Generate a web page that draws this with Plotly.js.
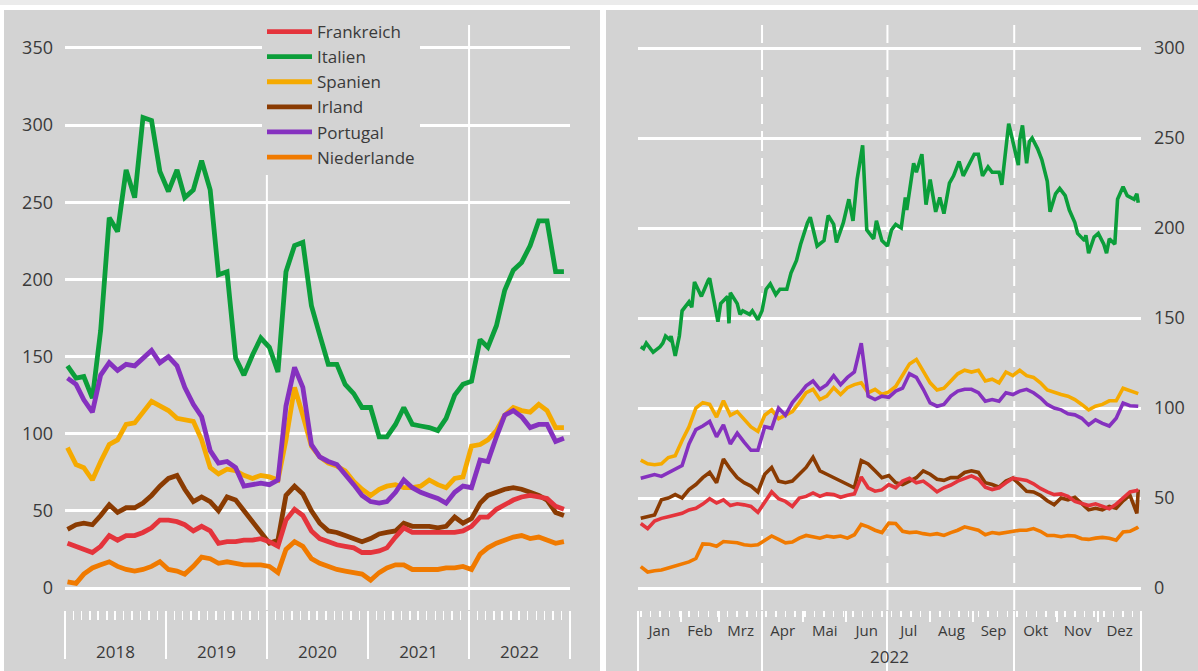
<!DOCTYPE html>
<html lang="de">
<head>
<meta charset="UTF-8">
<title>Renditeaufschläge gegenüber Deutschland</title>
<script src="https://cdn.plot.ly/plotly-3.0.1.min.js"></script>
<style>
  body { margin: 0; background: #fff; }
  #chart { width: 1198px; height: 671px; }
</style>
</head>
<body>
<div id="chart"></div>
<script>
// ---------- Daten ----------
const countries = ['Frankreich', 'Italien', 'Spanien', 'Irland', 'Portugal', 'Niederlande'];

// linkes Panel: Monatswerte 2018-2022
const years = [2018, 2019, 2020, 2021, 2022];
const monthNums = ['01','02','03','04','05','06','07','08','09','10','11','12'];

const frL = [29,27,25,23,27,34,31,34,34,36, 39,44,44,43,41,37,40,37,29,30, 30,31,31,32,30,27,44,51,47,37,
             32,30,28,27,26,23,23,24,26,33, 39,36,36,36,36,36,36,37,40,46, 46,51,54,57,59,60,59,58,53,51];
const itL = [144,136,137,123,167,240,231,271,253,305, 303,270,257,271,253,258,277,258,203,205,
             149,138,151,162,156,140,205,222,224,183, 164,145,145,132,126,117,117,98,98,106,
             117,106,105,104,102,110,125,132,134,161, 156,170,193,206,211,222,238,238,205,205];
const esL = [91,80,78,70,82,93,96,106,107,114, 121,118,115,110,109,108,96,78,74,77, 76,73,71,73,72,70,96,130,112,92,
             85,81,79,76,69,64,60,64,66,67, 65,65,66,70,67,65,71,72,92,93, 96,102,112,117,115,114,119,115,104,104];
const ieL = [38,41,42,41,47,54,49,52,52,55, 60,66,71,73,64,56,59,56,50,59, 57,50,43,35,29,31,60,66,61,50,
             42,37,36,34,32,30,32,35,36,37, 42,40,40,40,39,40,46,42,45,55, 60,62,64,65,64,62,60,57,49,47];
const ptL = [136,132,122,114,138,146,141,145,144,149, 154,146,150,144,130,119,111,89,81,82, 78,66,67,68,67,70,118,143,130,93,
             85,82,80,74,67,60,56,55,56,62, 70,65,62,60,58,55,62,66,65,83, 82,98,112,115,111,104,106,106,95,97];
const nlL = [4,3,9,13,15,17,14,12,11,12, 14,17,12,11,9,14,20,19,16,17, 16,15,15,15,14,10,25,30,27,19,
             16,14,12,11,10,9,5,10,13,15, 15,12,12,12,12,13,13,14,12,22, 26,29,31,33,34,32,33,31,29,30];

// rechtes Panel: Tageswerte 2022 (Auswahl)
const rDays = ['01-03','01-08','01-13','01-18','01-23','01-28','02-02','02-07','02-12','02-17','02-22','02-27',
               '03-04','03-09','03-14','03-19','03-24','03-29','04-03','04-08','04-13','04-18','04-23','04-28',
               '05-03','05-08','05-13','05-18','05-23','05-28','06-02','06-07','06-12','06-17','06-22','06-27',
               '07-02','07-07','07-12','07-17','07-22','07-27','08-01','08-06','08-11','08-16','08-21','08-26',
               '08-31','09-05','09-10','09-15','09-20','09-25','09-30','10-05','10-10','10-15','10-20','10-25',
               '10-30','11-04','11-09','11-14','11-19','11-24','11-29','12-04','12-09','12-14','12-19','12-24',
               '12-29','12-30'];
const frR = [35.8,33,37.2,38.7,39.6,40.6,41.5,43.4,44.3,46.6,49.6,47.2,49,45.8,46.8,46.2,45.3,42,48.1,53.4,
             49.6,48.1,45.3,50,50.9,52.8,50.9,52.3,51.9,50.4,51.5,52.3,61.7,55.7,53.8,54.5,57.5,55.7,59.4,61,
             58.5,59.4,56.6,53.4,55.7,57.2,59.4,61,62.3,60.4,56,54.7,55.7,58.5,61,60.4,59.8,57.9,55.3,53.4,
             51.9,52.3,50.9,48.1,47.2,45.8,46.8,45.3,44,46.6,50,53.4,54.2,54.7];
const esR = [71,69,68.5,69,72.5,73.5,82,89.5,100,103,102,95,104,96,98,94,89.5,87,96,99,
             94,96,98,103,108.5,110.4,104.7,106.6,111.3,107.5,111.3,113,114,108.5,110.4,107.5,109,112,118,124.5,
             127,120,114,110,111,115,119,121,120,121,115,116,114,120,118,121,118,117,114,110,
             108.5,107.5,106.6,104.7,102,99,101,102,104,104,111,109.5,108.5,108];
const ieR = [38.7,39.6,40.6,49,50,51.9,50,54.7,57.5,61.3,64.2,58.5,71.7,66,61.3,58.5,56.6,53.4,63.2,67,
             59.4,58.5,59.4,63.2,67,72.6,65.1,63.2,61.3,59.4,57.5,55.7,70.8,68.9,65.1,61.3,62.5,58.5,57.5,59.4,
             61.3,65.1,63.2,60.4,59.8,61.3,61.3,64.2,65.1,64.2,58.5,57.5,56,59.4,61,57.5,53.8,53.4,51.5,48.5,
             46.2,50,49,50.4,47.2,43.4,44.3,43.4,45.3,44.3,48.5,51.5,41.5,54.7];
const ptR = [61,62,63,62,64,66,68,80,88,90,92.5,84,90.6,80,86,81,76.5,76.5,89.6,88.7,
             100,96,103,107.5,112.3,115,110.4,113,118,113,117,120,136,106.6,104.7,106.6,106,109.4,111,119,
             117,110.4,102.8,101,102,106.6,109.4,110.4,110.4,108.5,103.8,104.7,103.8,108.5,107.5,109.4,110.4,108.5,105.7,102,
             100,99,96.8,96.2,94.3,90.6,93.4,91.5,90,94.3,102.8,101.3,101,101];
const nlR = [11.9,8.9,9.6,10,11.1,12.3,13.2,14.5,16.4,24.5,24.3,23.2,25.8,25.5,25.1,24,23.6,24,26.4,28.9,
             27,25.1,25.5,27.7,29.2,28.3,27.7,28.9,28.3,28.9,27.7,29.6,35.3,34,32.1,30.8,36,35.8,31.5,30.8,
             31.1,30.2,29.6,30.2,29.2,30.8,32.1,34,33,32.1,29.6,30.8,30.2,30.8,31.5,32.1,32.1,33,31.5,29.2,
             29.2,28.5,29.2,28.9,27.4,27,27.7,28.1,27.7,26.6,31.1,31.5,33.4,34];

// Italien rechts mit eigenen Stichtagen (stärker ausgeprägte Ausschläge)
const itDays = ['01-03','01-05','01-07','01-12','01-17','01-19','01-21','01-24','01-25','01-28','01-31','02-02',
                '02-07','02-09','02-11','02-16','02-21','02-22','02-25','02-28','03-02','03-07','03-08','03-09',
                '03-14','03-16','03-18','03-23','03-25','03-29','04-01','04-04','04-07','04-11','04-14','04-19',
                '04-22','04-26','04-29','05-04','05-06','05-11','05-16','05-19','05-23','05-25','05-30','06-03',
                '06-06','06-09','06-13','06-14','06-16','06-21','06-23','06-27','07-01','07-04','07-07','07-11',
                '07-14','07-15','07-20','07-22','07-26','07-29','08-01','08-05','08-08','08-11','08-15','08-18',
                '08-22','08-25','08-29','09-02','09-05','09-08','09-12','09-15','09-20','09-22','09-27','09-29',
                '10-03','10-04','10-05','10-07','10-10','10-12','10-14','10-18','10-21','10-25','10-27','10-31',
                '11-03','11-07','11-10','11-14','11-16','11-21','11-22','11-24','11-28','12-01','12-05','12-07',
                '12-09','12-13','12-15','12-19','12-22','12-27','12-29','12-30'];
const itR = [134,133,136,131,134,136,140,138,140,129,140,154, 159,156,170,162,171,172,160,148,158,162,147,164,
             158,152,154,152,154,149,154,166,169,163,166,166, 175,182,191,203,206,190,193,207,202,192,203,216,
             204,227,246,229,199,194,204,193,190,199,202,200, 217,210,236,231,241,213,227,209,217,208,225,229,
             237,229,235,241,241,229,234,231,231,224,258,251, 238,235,249,257,236,248,250,244,238,226,209,219,
             222,218,210,203,197,193,196,186,195,197,191,186, 194,191,216,223,218,216,219,214];

const monthLabels = ['Jan','Feb','Mrz','Apr','Mai','Jun','Jul','Aug','Sep','Okt','Nov','Dez'];
const leftVLines = ['2020-01-01', '2022-01-01'];
const rightVLines = ['2022-04-01', '2022-07-01', '2022-10-01'];

// ---------- Aufbau ----------
const leftDates = [];
years.forEach(y => monthNums.forEach(m => leftDates.push(y + '-' + m + '-10')));
const rDates = rDays.map(d => '2022-' + d);
const itDates = itDays.map(d => '2022-' + d);

const colors = {
  Frankreich: '#e4343c', Italien: '#0b9e3a', Spanien: '#f5aa00',
  Irland: '#8a3b02', Portugal: '#8531bf', Niederlande: '#f07a00'
};
const left = { Frankreich: frL, Italien: itL, Spanien: esL, Irland: ieL, Portugal: ptL, Niederlande: nlL };
const right = { Frankreich: frR, Italien: itR, Spanien: esR, Irland: ieR, Portugal: ptR, Niederlande: nlR };
const drawOrder = ['Niederlande', 'Italien', 'Spanien', 'Irland', 'Frankreich', 'Portugal'];

const traces = [];
drawOrder.forEach(c => {
  traces.push({
    x: leftDates, y: left[c], name: c, type: 'scatter', mode: 'lines',
    xaxis: 'x', yaxis: 'y', legendgroup: c, legendrank: countries.indexOf(c) + 1,
    line: { color: colors[c], width: 4.8 }, hoverinfo: 'skip'
  });
});
drawOrder.forEach(c => {
  traces.push({
    x: c === 'Italien' ? itDates : rDates, y: right[c], name: c, type: 'scatter', mode: 'lines',
    xaxis: 'x2', yaxis: 'y2', legendgroup: c, showlegend: false,
    line: { color: colors[c], width: 3.6 }, hoverinfo: 'skip'
  });
});
// leere Spur, damit die Quartalsachse gezeichnet wird
traces.push({ x: ['2022-01-01'], y: [null], xaxis: 'x3', yaxis: 'y2', showlegend: false, hoverinfo: 'skip', mode: 'lines' });

const W = 1198, H = 671;
const px = v => v / W;
const py = v => 1 - v / H;
const panel = '#d3d3d3';
const txt = '#3a3a3a';

const shapes = [
  { type: 'rect', xref: 'paper', yref: 'paper', x0: 0, x1: 1, y0: py(5), y1: 1, fillcolor: '#ebebeb', line: { width: 0 }, layer: 'below' },
  { type: 'rect', xref: 'paper', yref: 'paper', x0: px(4), x1: px(600), y0: 0, y1: py(10), fillcolor: panel, line: { width: 0 }, layer: 'below' },
  { type: 'rect', xref: 'paper', yref: 'paper', x0: px(606), x1: 1, y0: 0, y1: py(10), fillcolor: panel, line: { width: 0 }, layer: 'below' }
];
leftVLines.forEach(d => shapes.push({
  type: 'line', xref: 'x', yref: 'y domain', x0: d, x1: d, y0: 0, y1: 1,
  line: { color: 'white', width: 2 }, layer: 'below'
}));
rightVLines.forEach(d => shapes.push({
  type: 'line', xref: 'x2', yref: 'y2 domain', x0: d, x1: d, y0: 0, y1: 1,
  line: { color: 'white', width: 2, dash: '20px,7px' }, layer: 'below'
}));

const yDom = [py(610), py(25)];

const layout = {
  width: W, height: H,
  margin: { l: 0, r: 0, t: 0, b: 0 },
  paper_bgcolor: '#ffffff',
  plot_bgcolor: 'rgba(0,0,0,0)',
  font: { family: 'Open Sans, Noto Sans, sans-serif', color: txt, size: 17 },
  showlegend: true,
  legend: {
    x: px(262), y: py(14), xanchor: 'left', yanchor: 'top',
    bgcolor: panel, borderwidth: 0, tracegroupgap: 0,
    font: { size: 17, color: txt }, itemwidth: 45, traceorder: 'normal'
  },
  xaxis: {
    domain: [px(65), px(570)], anchor: 'y', type: 'date',
    range: ['2018-01-01', '2023-01-01'],
    tickmode: 'linear', tick0: '2018-01-01', dtick: 'M12',
    ticklabelmode: 'period', tickformat: '%Y',
    ticks: 'outside', ticklen: 48, tickwidth: 2, tickcolor: 'white',
    ticklabelstandoff: -21,
    minor: { dtick: 'M1', ticks: 'outside', ticklen: 9, tickwidth: 1.5, tickcolor: 'white' },
    showgrid: false, zeroline: false, showline: false,
    tickfont: { size: 17, color: txt }
  },
  yaxis: {
    domain: yDom, anchor: 'x',
    range: [-14.26, 364.9],
    tickmode: 'linear', tick0: 0, dtick: 50,
    showgrid: true, gridcolor: 'white', gridwidth: 3,
    zeroline: false, showline: false, ticks: '',
    ticklabelstandoff: 11,
    tickfont: { size: 18, color: txt }
  },
  xaxis2: {
    domain: [px(638), px(1141)], anchor: 'y2', type: 'date',
    range: ['2022-01-01', '2023-01-01'],
    tickmode: 'linear', tick0: '2022-01-01', dtick: 'M1',
    ticklabelmode: 'period', tickformat: '%b',
    ticks: 'outside', ticklen: 11, tickwidth: 2, tickcolor: 'white',
    ticklabelstandoff: -4,
    minor: { dtick: 7 * 86400000, tick0: '2022-01-03', ticks: 'outside', ticklen: 6, tickwidth: 1.5, tickcolor: 'white' },
    showgrid: false, zeroline: false, showline: false,
    tickfont: { size: 15, color: txt },
    title: { text: '2022', font: { size: 17, color: txt }, standoff: 12 }
  },
  xaxis3: {
    overlaying: 'x2', anchor: 'y2', type: 'date',
    range: ['2022-01-01', '2023-01-01'],
    tickmode: 'linear', tick0: '2022-01-01', dtick: 'M3',
    ticks: 'outside', ticklen: 60, tickwidth: 2, tickcolor: 'white',
    showticklabels: false, showgrid: false, zeroline: false, showline: false
  },
  yaxis2: {
    domain: yDom, anchor: 'x2', side: 'right',
    range: [-12.22, 312.8],
    tickmode: 'linear', tick0: 0, dtick: 50,
    showgrid: true, gridcolor: 'white', gridwidth: 3,
    zeroline: false, showline: false, ticks: '',
    ticklabelstandoff: 12,
    tickfont: { size: 18, color: txt }
  },
  shapes: shapes
};

Plotly.register({
  moduleType: 'locale',
  name: 'de',
  dictionary: {},
  format: {
    days: ['Sonntag','Montag','Dienstag','Mittwoch','Donnerstag','Freitag','Samstag'],
    shortDays: ['So','Mo','Di','Mi','Do','Fr','Sa'],
    months: ['Januar','Februar','März','April','Mai','Juni','Juli','August','September','Oktober','November','Dezember'],
    shortMonths: monthLabels,
    date: '%d.%m.%Y'
  }
});

Plotly.newPlot('chart', traces, layout, { locale: 'de', displayModeBar: false, staticPlot: true });
</script>
</body>
</html>
